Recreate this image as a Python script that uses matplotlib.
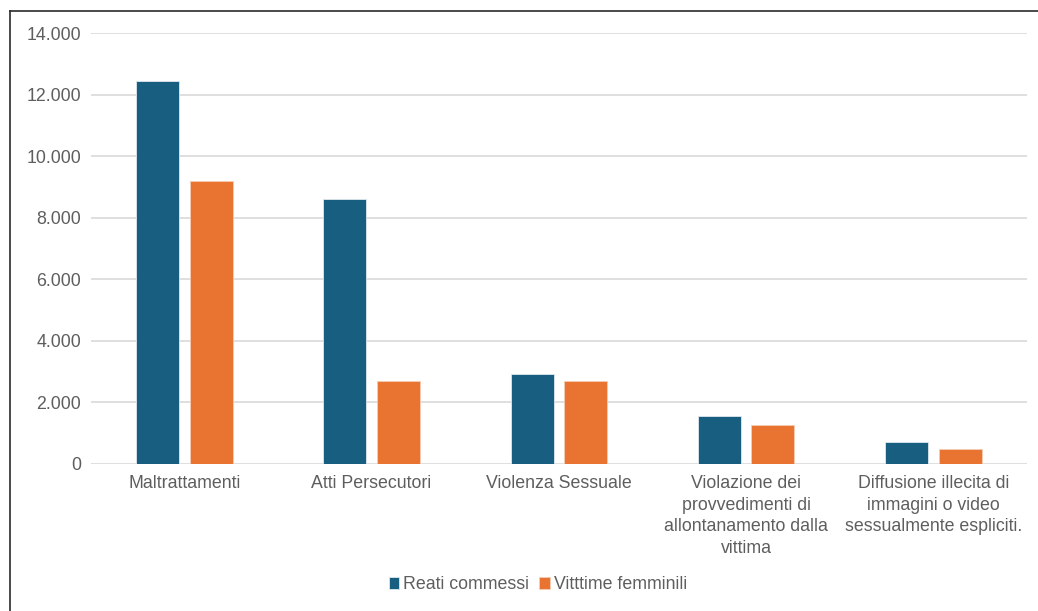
import matplotlib
matplotlib.use('Agg')
import matplotlib.pyplot as plt
from matplotlib.lines import Line2D
from matplotlib.ticker import FuncFormatter
import numpy as np

categories = ['Maltrattamenti', 'Atti Persecutori', 'Violenza Sessuale',
              'Violazione dei\nprovvedimenti di\nallontanamento dalla\nvittima',
              'Diffusione illecita di\nimmagini o video\nsessualmente espliciti.']
reati = [12450, 8600, 2910, 1560, 715]
vittime = [9200, 2690, 2690, 1280, 477]
y_ticks = [0, 2000, 4000, 6000, 8000, 10000, 12000, 14000]

blue = '#175E80'
orange = '#E97331'
txt = '#5e5e5e'

plt.rcParams['font.family'] = ['Liberation Sans', 'DejaVu Sans']

fig = plt.figure(figsize=(10.38, 6.11), dpi=100)
ax = fig.add_axes([0.0874, 0.2406, 0.902, 0.7049])

x = np.arange(len(categories))
w = 0.23
ax.bar(x - 0.143, reati, w, color=blue, edgecolor='#dfe8ee', linewidth=0.6,
       label='Reati commessi', zorder=3)
ax.bar(x + 0.143, vittime, w, color=orange, edgecolor='#f6cdb4', linewidth=0.6,
       label='Vitttime femminili', zorder=3)

ax.set_xlim(-0.5, len(categories) - 0.5)
ax.set_ylim(0, 14000)
ax.set_yticks(y_ticks)
ax.yaxis.set_major_formatter(FuncFormatter(lambda v, p: '{:,.0f}'.format(v).replace(',', '.')))
ax.grid(axis='y', color='#d9d9d9', linewidth=1.2, zorder=0)
for s in ax.spines.values():
    s.set_visible(False)
ax.tick_params(axis='both', length=0, labelsize=12.8, labelcolor=txt)
ax.tick_params(axis='y', pad=7)
ax.tick_params(axis='x', pad=8)
ax.set_xticks(x)
ax.set_xticklabels(categories, linespacing=1.36)

fig.legend(loc='center', bbox_to_anchor=(0.518, 0.043), ncol=2, frameon=False,
           fontsize=12.8, labelcolor=txt, handlelength=0.6, handleheight=0.6,
           handletextpad=0.2, columnspacing=0.6)

# frame of the original screenshot
fig.add_artist(Line2D([10 / 1038, 10 / 1038], [0, 1 - 10.5 / 611], color='#2a2a2a', linewidth=1.2))
fig.add_artist(Line2D([10 / 1038, 1], [1 - 10.5 / 611, 1 - 10.5 / 611], color='#2a2a2a', linewidth=1.2))

fig.savefig('out.png', dpi=100)
